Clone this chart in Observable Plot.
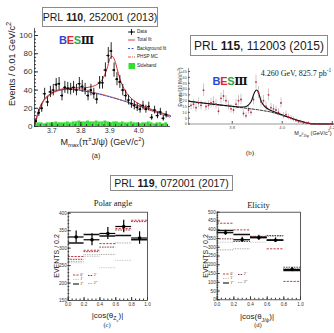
<!DOCTYPE html>
<html>
<head>
<meta charset="utf-8">
<script src="https://cdn.jsdelivr.net/npm/d3@7"></script>
<script src="https://cdn.jsdelivr.net/npm/@observablehq/plot@0.6"></script>
<style>
  html, body { margin: 0; padding: 0; background: #fff; }
  #page { position: relative; width: 334px; height: 333px; overflow: hidden; background: #fff;
          font-family: "Liberation Sans", Arial, Helvetica, sans-serif; color: #222; }
  .ref { position: absolute; box-sizing: border-box; border: 1px solid #8a8a8a; background: #fff;
         display: flex; align-items: center; justify-content: center; white-space: nowrap; color: #1a1a1a; }
  .lbl { position: absolute; white-space: nowrap; line-height: 1; transform: translate(-50%, -50%); }
  .rot { transform: translate(-50%, -50%) rotate(-90deg); }
  .serif { font-family: "Liberation Serif", "Times New Roman", serif; }
  .logo { position: absolute; font-weight: bold; white-space: nowrap; line-height: 1; transform: translate(-50%, -50%);
          font-family: "Liberation Sans", Arial, sans-serif; letter-spacing: -0.3px; }
  .logo .iii { font-family: "DejaVu Serif", serif; color: #111; }
  sub, sup { line-height: 0; }
  svg.leg { position: absolute; overflow: visible; }
</style>
</head>
<body>
<div id="page"></div>
<script>
// ---------- (a) M_max(pi± J/psi), 0.01 GeV/c^2 bins ----------
const aBinStart = 3.64;
const aBinWidth = 0.01;
const aCounts = [6, 15, 20, 36, 27, 38, 40, 46, 47, 34,
                 43, 42, 41, 43, 40, 47, 44, 41, 34, 40,
                 36, 30, 48, 48, 62, 78, 83, 62, 52, 49,
                 40, 34, 29, 25, 23, 21, 19, 23, 19, 22,
                 10, 18, 12, 16, 9, 13];
const aSideband = [3, 4, 4, 3, 4, 4, 4, 5, 4, 4,
                   4, 5, 4, 5, 5, 6, 5, 5, 6, 5,
                   5, 6, 5, 5, 6, 5, 4, 5, 5, 4,
                   5, 4, 4, 5, 4, 4, 3, 4, 4, 5,
                   4, 3, 4, 4, 3, 4];
const aTotalMass = [3.64, 3.65, 3.66, 3.67, 3.68, 3.70, 3.72, 3.75, 3.78, 3.81, 3.84, 3.86, 3.875, 3.89, 3.90, 3.91, 3.92, 3.93, 3.94, 3.96, 3.99, 4.02, 4.06, 4.11];
const aTotalFit  = [1, 13, 22, 28, 32, 37, 40, 42, 42.5, 42.5, 44, 47, 52, 63, 74, 77, 70, 58, 48, 36, 27, 22, 17, 12];
const aBkgMass = [3.64, 3.65, 3.66, 3.67, 3.68, 3.70, 3.72, 3.75, 3.78, 3.81, 3.85, 3.90, 3.95, 4.00, 4.05, 4.11];
const aBkgFit  = [1, 13, 22, 28, 32, 37, 39.5, 41, 40.5, 39, 36.5, 32.5, 28, 23, 17.5, 11];
const aPhspMC  = [0, 11, 20, 27, 31, 36, 39, 41, 41, 39.5, 37, 33, 28, 22.5, 16.5, 10];
const aTicksX = [3.7, 3.8, 3.9, 4.0];
const aTicksY = [0, 20, 40, 60, 80, 100];

// ---------- (b) M(pi0 J/psi) at 4.260 GeV, 10 MeV/c^2 bins ----------
const bBinStart = 3.63;
const bBinWidth = 0.01;
const bCounts = [16, 17, 14, 18, 16, 29, 15, 16, 18, 19,
                 17, 11, 22, 24, 20, 16, 13, 12, 17, 20,
                 21, 9, 7, 12, 10, 21, 36, 27, 19, 20,
                 15, 25, 14, 13, 12, 10, 18, 7, 8, 6,
                 5, 4, 3, 2, 2, 1, 1, 1, 0, 0,
                 0, 0, 0, 0, 0, 0, 0];
const bFitMass = [3.625, 3.70, 3.78, 3.84, 3.86, 3.875, 3.885, 3.895, 3.905, 3.915, 3.93, 3.95, 3.98, 4.02, 4.06, 4.10, 4.13, 4.205];
const bFit     = [19.5, 17.6, 15.7, 14.6, 15.5, 19, 25, 29, 27, 20, 15, 12, 9.5, 6.3, 3.2, 0.9, 0.1, 0];
const bBkgMass = [3.625, 3.70, 3.80, 3.90, 3.95, 4.00, 4.05, 4.10, 4.13, 4.205];
const bBkg     = [19.5, 17.5, 15, 12.3, 10.5, 7.5, 3.8, 0.8, 0.1, 0];
const bTicksX = [3.8, 4.0, 4.2];
const bTicksY = [0, 5, 10, 15, 20, 25, 30, 35, 40, 45];

// ---------- (c), (d) angular projections, |cos| bins of 0.2 ----------
const cosBinLow  = [0.0, 0.2, 0.4, 0.6, 0.8];
const cosBinHigh = [0.2, 0.4, 0.6, 0.8, 1.0];
const cosTicks = [0, 0.2, 0.4, 0.6, 0.8, 1.0];
const jpNames = ["0⁻", "1⁻", "2⁻", "2⁺", "1⁺"];

const cData = [332, 324, 342, 362, 329];
const cErr  = [17, 17, 17, 18, 18];
const cFit = {
  "0⁻": [276, 294, 313, 356, 380],
  "1⁻": [258, 276, 244, 265, 450],
  "1⁺": [315, 339, 335, 336, 324],
  "2⁻": [268, 290, 303, 352, 376],
  "2⁺": [262, 281, 282, 315, 462]
};
const cTicksY = [150, 200, 250, 300, 350, 400];

const dData = [383, 343, 354, 340, 173];
const dErr  = [14, 14, 14, 13, 12];
const dFit = {
  "0⁻": [437, 399, 361, 291, 105],
  "1⁻": [329, 336, 329, 367, 180],
  "1⁺": [395, 373, 357, 342, 167],
  "2⁻": [348, 333, 358, 367, 186],
  "2⁺": [285, 291, 364, 361, 178]
};
const dTicksY = [0, 50, 100, 150, 200, 250, 300, 350, 400, 450, 500];

const jpStyle = {
  "0⁻": {stroke: "#b8262e", strokeDasharray: "2.2,1.2", strokeWidth: 0.9},
  "1⁻": {stroke: "#b4b4b4", strokeDasharray: "0.8,0.9", strokeWidth: 0.9},
  "1⁺": {stroke: "#111111", strokeWidth: 1.5},
  "2⁻": {stroke: "#6e2a32", strokeDasharray: "1.6,1", strokeWidth: 0.9},
  "2⁺": {stroke: "#8a8a8a", strokeDasharray: "0.8,0.9", strokeWidth: 0.9}
};

const page = document.getElementById("page");
const baseStyle = {fontFamily: "Liberation Sans, Arial, sans-serif", background: "transparent", overflow: "visible"};

function place(el, left, top) {
  el.style.position = "absolute";
  el.style.left = left + "px";
  el.style.top = top + "px";
  page.appendChild(el);
  return el;
}
function label(html, cx, cy, size, extra = "") {
  const d = document.createElement("div");
  d.className = "lbl " + extra;
  d.innerHTML = html;
  d.style.left = cx + "px";
  d.style.top = cy + "px";
  d.style.fontSize = size + "px";
  page.appendChild(d);
  return d;
}
function refBox(html, left, top, w, h, size) {
  const d = document.createElement("div");
  d.className = "ref";
  d.innerHTML = html;
  Object.assign(d.style, {left: left + "px", top: top + "px", width: w + "px", height: h + "px", fontSize: size + "px"});
  page.appendChild(d);
}
function logo(cx, cy, size) {
  const d = document.createElement("div");
  d.className = "logo";
  d.innerHTML = '<span style="color:#2a48d8">B</span><span style="color:#e3262e">E</span><span style="color:#1fa64a">S</span><span class="iii">Ⅲ</span>';
  d.style.left = cx + "px";
  d.style.top = cy + "px";
  d.style.fontSize = size + "px";
  page.appendChild(d);
}
const blank = () => "";

// ---------------- panel (a) ----------------
const aRows = aCounts.map((n, i) => ({
  m: aBinStart + aBinWidth * (i + 0.5),
  lo: aBinStart + aBinWidth * i,
  hi: aBinStart + aBinWidth * (i + 1),
  n, err: Math.sqrt(n), sb: aSideband[i]
}));
const aTotal = aTotalMass.map((m, i) => ({m, y: aTotalFit[i]}));
const aBkg = aBkgMass.map((m, i) => ({m, y: aBkgFit[i]}));
const aPhsp = aBkgMass.map((m, i) => ({m, y: aPhspMC[i]}));
const aDomX = [3.64, 4.11];

const plotA = Plot.plot({
  width: 172, height: 130,
  marginLeft: 34, marginRight: 2, marginTop: 8, marginBottom: 24,
  x: {domain: aDomX, label: null},
  y: {domain: [0, 107.7], label: null},
  style: baseStyle,
  marks: [
    Plot.rectY(aRows, {x1: "lo", x2: "hi", y: "sb", fill: "#2fe02f"}),
    Plot.line(aPhsp, {x: "m", y: "y", curve: "natural", stroke: "#e0452a", strokeWidth: 0.9, strokeDasharray: "3,1,1,1"}),
    Plot.line(aBkg, {x: "m", y: "y", curve: "natural", stroke: "#2c44c8", strokeWidth: 0.9, strokeDasharray: "2,1.5"}),
    Plot.line(aTotal, {x: "m", y: "y", curve: "natural", stroke: "#d42a2a", strokeWidth: 1}),
    Plot.ruleX(aRows, {x: "m", y1: d => Math.max(0, d.n - d.err), y2: d => d.n + d.err, stroke: "#111", strokeWidth: 0.9}),
    Plot.ruleY(aRows, {y: "n", x1: "lo", x2: "hi", stroke: "#111", strokeWidth: 0.9}),
    Plot.dot(aRows, {x: "m", y: "n", r: 1.1, fill: "#000"}),
    Plot.ruleX([aDomX[0]], {stroke: "#333", strokeWidth: 0.8}),
    Plot.ruleY([0], {stroke: "#333", strokeWidth: 0.8}),
    Plot.axisY(aTicksY, {tickSize: 0, tickPadding: 2, fontSize: 8, fill: "#333", label: null}),
    Plot.axisY(aTicksY, {tickSize: -4, tickFormat: blank, label: null, stroke: "#333"}),
    Plot.axisY(d3.range(0, 107, 4), {tickSize: -2, tickFormat: blank, label: null, stroke: "#333"}),
    Plot.axisX(aTicksX, {tickSize: 0, tickPadding: 1.5, fontSize: 7, fill: "#333", tickFormat: d3.format(".1f"), label: null}),
    Plot.axisX(aTicksX, {tickSize: -4, tickFormat: blank, label: null, stroke: "#333"}),
    Plot.axisX(d3.range(3.64, 4.11, 0.02), {tickSize: -2, tickFormat: blank, label: null, stroke: "#333"})
  ]
});
place(plotA, 0, 20);

// ---------------- panel (b) ----------------
const bRows = bCounts.map((n, i) => ({m: bBinStart + bBinWidth * (i + 0.5), n, err: Math.sqrt(n)}));
const bFitRows = bFitMass.map((m, i) => ({m, y: bFit[i]}));
const bBkgRows = bBkgMass.map((m, i) => ({m, y: bBkg[i]}));
const bDomX = [3.625, 4.205];

const plotB = Plot.plot({
  width: 164, height: 80,
  marginLeft: 18, marginRight: 1, marginTop: 8, marginBottom: 16.5,
  x: {domain: bDomX, label: null},
  y: {domain: [0, 47.6], label: null},
  style: baseStyle,
  marks: [
    Plot.ruleX(bRows, {x: "m", y1: d => Math.max(0, d.n - d.err), y2: d => d.n + d.err, stroke: "#bdbdbd", strokeWidth: 0.8}),
    Plot.line(bBkgRows, {x: "m", y: "y", stroke: "#222", strokeWidth: 0.9, strokeDasharray: "2.5,1.5"}),
    Plot.line(bFitRows, {x: "m", y: "y", curve: "natural", stroke: "#111", strokeWidth: 1.1}),
    Plot.dot(bRows, {x: "m", y: "n", r: 0.9, fill: "#c0243c"}),
    Plot.ruleX([bDomX[0]], {stroke: "#555", strokeWidth: 0.6}),
    Plot.ruleY([0], {stroke: "#555", strokeWidth: 0.6}),
    Plot.axisY(bTicksY, {tickSize: 0, tickPadding: 1.5, fontSize: 4.2, fill: "#555", label: null}),
    Plot.axisY(bTicksY, {tickSize: -2, tickFormat: blank, label: null, stroke: "#555"}),
    Plot.axisX(bTicksX, {tickSize: 0, tickPadding: 2, fontSize: 4.2, fill: "#555", tickFormat: d3.format(".1f"), label: null}),
    Plot.axisX(bTicksX, {tickSize: -2.5, tickFormat: blank, label: null, stroke: "#555"})
  ]
});
place(plotB, 170, 60);

// ---------------- panels (c) and (d) ----------------
function angularPanel(data, err, fits, yDomain, yTicks, yMinor, width, marginLeft, marginBottom) {
  const bins = data.map((v, i) => ({lo: cosBinLow[i], hi: cosBinHigh[i], c: (cosBinLow[i] + cosBinHigh[i]) / 2, v, e: err[i]}));
  const fitMarks = jpNames.map(name =>
    Plot.ruleY(fits[name].map((v, i) => ({lo: cosBinLow[i], hi: cosBinHigh[i], v})),
      {x1: "lo", x2: "hi", y: "v", clip: true, ...jpStyle[name]}));
  return Plot.plot({
    width, height: 110,
    marginLeft, marginRight: 5, marginTop: 11.7, marginBottom,
    x: {domain: [0, 1], label: null},
    y: {domain: yDomain, label: null},
    style: baseStyle,
    marks: [
      ...fitMarks,
      Plot.ruleX(bins, {x: "c", y1: d => d.v - d.e, y2: d => d.v + d.e, stroke: "#000", strokeWidth: 1.2}),
      Plot.ruleY(bins, {y: "v", x1: "lo", x2: "hi", stroke: "#000", strokeWidth: 1.2}),
      Plot.dot(bins, {x: "c", y: "v", r: 1.8, fill: "#000"}),
      Plot.frame({stroke: "#333", strokeWidth: 0.8}),
      Plot.axisY(yTicks, {tickSize: 0, tickPadding: 1.5, fontSize: 4.6, fill: "#333", label: null}),
      Plot.axisY(yTicks, {tickSize: -3, tickFormat: blank, label: null, stroke: "#333"}),
      Plot.axisY(yMinor, {tickSize: -1.5, tickFormat: blank, label: null, stroke: "#333"}),
      Plot.axisX(cosTicks, {tickSize: 0, tickPadding: 2.6, fontSize: 4.6, fill: "#333", tickFormat: d3.format(".1f"), label: null}),
      Plot.axisX(cosTicks, {tickSize: -3, tickFormat: blank, label: null, stroke: "#333"}),
      Plot.axisX(d3.range(0, 1.001, 0.05), {tickSize: -1.5, tickFormat: blank, label: null, stroke: "#333"})
    ]
  });
}
place(angularPanel(cData, cErr, cFit, [150, 403], cTicksY, d3.range(150, 403, 10), 112, 27.7, 10), 40, 200);
place(angularPanel(dData, dErr, dFit, [0, 500], dTicksY, d3.range(0, 501, 10), 115, 26.7, 10.7), 190, 200);

// ---------------- legends ----------------
function svgEl(tag, attrs) {
  const e = document.createElementNS("http://www.w3.org/2000/svg", tag);
  for (const k in attrs) e.setAttribute(k, attrs[k]);
  return e;
}
// (a)
const legA = svgEl("svg", {class: "leg", width: 46, height: 44});
[
  {name: "Data", kind: "data"},
  {name: "Total fit", kind: "line", stroke: "#d42a2a"},
  {name: "Background fit", kind: "line", stroke: "#2c44c8", dash: "2,1.5"},
  {name: "PHSP MC", kind: "line", stroke: "#e0452a", dash: "3,1,1,1"},
  {name: "Sideband", kind: "box"}
].forEach((it, i) => {
  const y = [5, 13, 21.5, 30, 39][i];
  if (it.kind === "data") {
    legA.appendChild(svgEl("line", {x1: 2, x2: 9, y1: y, y2: y, stroke: "#111", "stroke-width": 0.9}));
    legA.appendChild(svgEl("line", {x1: 5.5, x2: 5.5, y1: y - 3, y2: y + 3, stroke: "#111", "stroke-width": 0.9}));
    legA.appendChild(svgEl("circle", {cx: 5.5, cy: y, r: 1.1, fill: "#000"}));
  } else if (it.kind === "line") {
    legA.appendChild(svgEl("line", {x1: 2, x2: 9, y1: y, y2: y, stroke: it.stroke, "stroke-width": 0.9, "stroke-dasharray": it.dash || "none"}));
  } else {
    legA.appendChild(svgEl("rect", {x: 2.5, y: y - 3, width: 6.5, height: 6, fill: "#2fe02f"}));
  }
  const t = svgEl("text", {x: 11, y: y, "font-size": 4.6, "dominant-baseline": "middle", fill: "#222", "font-family": "Liberation Sans, Arial, sans-serif"});
  t.textContent = it.name;
  legA.appendChild(t);
});
place(legA, 126, 27);

// (c), (d)
function jpLegend(left, top) {
  const g = svgEl("svg", {class: "leg", width: 34, height: 18});
  const items = [
    {name: "0⁻", x: 3, y: 5}, {name: "1⁻", x: 3, y: 9.5}, {name: "1⁺", x: 3, y: 14},
    {name: "2⁻", x: 18, y: 5.5}, {name: "2⁺", x: 18, y: 13.5}
  ];
  items.forEach(it => {
    const s = jpStyle[it.name];
    const len = it.x === 3 ? 6 : 4.5;
    g.appendChild(svgEl("line", {x1: it.x, x2: it.x + len, y1: it.y, y2: it.y, stroke: s.stroke,
      "stroke-width": Math.min(s.strokeWidth, 1.1), "stroke-dasharray": s.strokeDasharray || "none"}));
    const t = svgEl("text", {x: it.x + len + 1.2, y: it.y, "font-size": 4, "dominant-baseline": "middle", fill: "#333", "font-family": "Liberation Serif, serif"});
    t.textContent = it.name;
    g.appendChild(t);
  });
  place(g, left, top);
}
jpLegend(70, 270);
jpLegend(220, 269);

// ---------------- titles, axis labels, annotations ----------------
refBox("PRL&nbsp;<b>110</b>, 252001 (2013)", 42, 7, 116, 20, 10.5);
refBox("PRL&nbsp;<b>115</b>, 112003 (2015)", 190, 35, 138, 21, 12);
refBox("PRL&nbsp;<b>119</b>, 072001 (2017)", 110, 175, 123, 16, 10.5);

logo(76.5, 39.5, 11);
logo(230, 80.5, 11);

label("Events / 0.01 GeV/c<sup>2</sup>", 11.5, 64, 9, "rot");
label("M<sub style='font-size:0.65em'>max</sub>(π<sup style='font-size:0.65em'>±</sup>J/ψ) (GeV/c<sup style='font-size:0.65em'>2</sup>)", 102.5, 142, 9);
label("(a)", 96, 155, 7);

label("Events/(10 MeV/c<sup>2</sup>)", 180.5, 87, 4.5, "rot");
label("4.260 GeV, 825.7 pb<sup style='font-size:0.7em'>-1</sup>", 296, 73.5, 8, "serif");
label("M<sub style='font-size:0.7em'>π<sup>0</sup>J/ψ</sub> (GeV/c<sup style='font-size:0.7em'>2</sup>)", 313, 133.5, 5.5);
label("(b)", 250, 152.5, 7, "serif");

label("Polar angle", 113, 203, 8.5, "serif");
label("Elicity", 258.5, 204.5, 8.5, "serif");
label("EVENTS / 0.2", 56, 256, 7, "rot");
label("EVENTS / 0.2", 205, 256, 7, "rot");
label("|cos(θ<sub style='font-size:0.65em'>Z<sub>c</sub></sub>)|", 107.5, 316.5, 8);
label("|cos(θ<sub style='font-size:0.65em'>J/ψ</sub>)|", 257, 316.5, 8);
label("(c)", 107, 325, 6.5, "serif");
label("(d)", 258, 325, 6.5, "serif");
</script>
</body>
</html>
